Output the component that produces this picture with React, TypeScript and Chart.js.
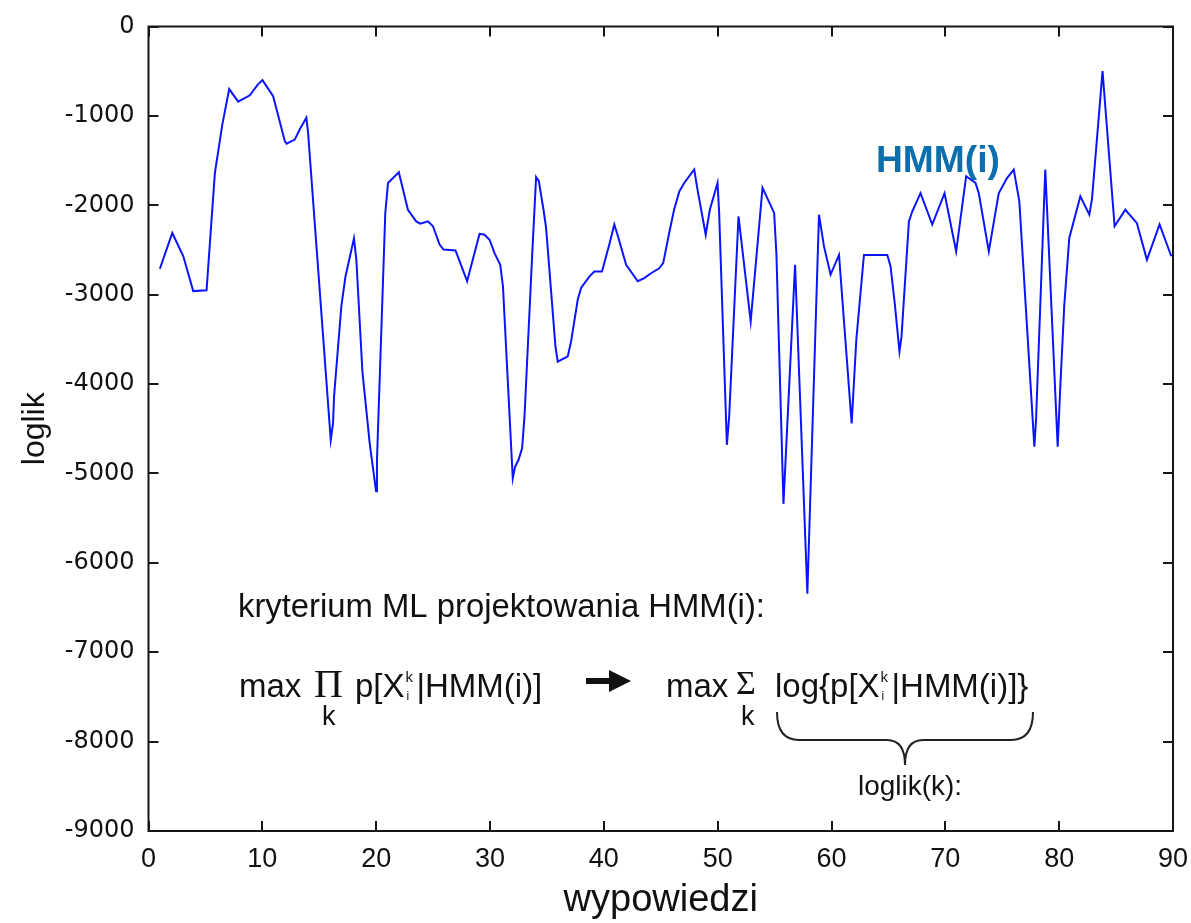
import React, { useEffect, useRef } from "react";
import { Chart, registerables } from "chart.js";

Chart.register(...registerables);

// utterance index (wypowiedzi) and log-likelihood values
const utteranceX = [
  1, 2.09, 3.06, 3.93, 5.1, 5.83, 6.48, 7.09, 7.88, 8.9, 9.6, 10.01, 10.95, 11.3, 11.97, 12.12,
  12.85, 13.29, 13.87, 14.02, 16.01, 16.21, 16.3, 16.94, 17.3, 18.05, 18.26, 18.79, 19.43, 19.99,
  20.07, 20.8, 21.04, 21.99, 22.79, 23.52, 23.88, 24.55, 24.99, 25.57, 25.92, 26.97, 27.61, 27.99,
  28.64, 29.08, 29.52, 29.96, 30.4, 30.9, 31.14, 32.0, 32.2, 32.5, 32.82, 33.03, 33.7, 34.05, 34.29,
  34.7, 34.93, 35.75, 35.95, 36.83, 37.12, 37.71, 38.0, 38.74, 39.17, 39.84, 40.48, 40.92, 41.2,
  41.96, 42.98, 43.55, 44.14, 44.87, 45.22, 45.74, 46.17, 46.63, 47.06, 47.94, 48.23, 48.95, 49.31,
  49.99, 50.13, 50.81, 51.01, 51.83, 51.97, 52.9, 53.94, 54.96, 55.16, 55.78, 56.8, 57.88, 58.9,
  59.34, 59.92, 60.66, 61.77, 62.18, 62.85, 64.9, 65.19, 65.57, 65.97, 66.15, 66.8, 67.09, 67.82,
  68.85, 69.93, 70.95, 71.83, 72.65, 72.94, 73.82, 74.69, 75.42, 76.01, 76.5, 77.82, 77.97, 78.78,
  79.87, 80.1, 80.45, 80.89, 81.86, 82.65, 82.88, 83.81, 84.87, 85.81, 86.83, 87.71, 88.82, 89.85,
];

const loglikValues = [
  -2710, -2310, -2570, -2960, -2950, -1640, -1100, -700, -840, -770, -650, -600, -780, -950, -1280, -1310,
  -1265, -1150, -1020, -1190, -4625, -4440, -4140, -3130, -2800, -2370, -2610, -3860, -4660, -5200,
  -4850, -2090, -1750, -1630, -2050, -2180, -2205, -2180, -2235, -2440, -2495, -2505, -2720, -2850,
  -2535, -2320, -2330, -2385, -2535, -2665, -2910, -5055, -4925, -4850, -4720, -4365, -2570, -1685, -1730,
  -2050, -2255, -3580, -3750, -3690, -3525, -3055, -2925, -2795, -2740, -2740, -2440, -2215, -2330,
  -2665, -2850, -2815, -2760, -2705, -2645, -2310, -2050, -1845, -1750, -1600, -1825, -2330, -2050,
  -1750, -2085, -4680, -4365, -2125, -2275, -3300, -1805, -2085, -2540, -5340, -2665, -6345, -2105,
  -2460, -2775, -2555, -4440, -3505, -2555, -2555, -2685, -3115, -3635, -3470, -2180, -2070, -1865,
  -2215, -1865, -2515, -1675, -1750, -1865, -2515, -1865, -1695, -1600, -1955, -4700, -4400, -1600,
  -4700, -4030, -3115, -2365, -1900, -2105, -1935, -500, -2235, -2050, -2200, -2610, -2215, -2570,
];

const xAxisMin = 0;
const xAxisMax = 90;
const xAxisStep = 10;
const yAxisMin = -9000;
const yAxisMax = 0;
const yAxisStep = 1000;

const xAxisTitle = "wypowiedzi";
const yAxisTitle = "loglik";
const seriesLabel = "HMM(i)";
const criterionText = "kryterium ML projektowania HMM(i):";
const bracketLabel = "loglik(k):";

const SANS = "'Liberation Sans', Arial, sans-serif";
const SERIF = "'Liberation Serif', 'Times New Roman', serif";
const INK = "#111111";

function fitFont(ctx: CanvasRenderingContext2D, text: string, width: number, family: string, weight = "normal") {
  ctx.font = `${weight} 100px ${family}`;
  const w = ctx.measureText(text).width;
  const size = (100 * width) / w;
  return `${weight} ${size.toFixed(2)}px ${family}`;
}

// draws p[X_i^k|HMM(i)] style text: prefix, stacked sub/sup, suffix
function drawIndexed(
  ctx: CanvasRenderingContext2D,
  x: number,
  baseline: number,
  size: number,
  prefix: string,
  suffix: string
) {
  ctx.font = `${size}px ${SANS}`;
  ctx.fillText(prefix, x, baseline);
  let cx = x + ctx.measureText(prefix).width + 1;
  ctx.font = `${Math.round(size * 0.36)}px ${SANS}`;
  ctx.fillText("i", cx + 1, baseline + 3);
  ctx.font = `${Math.round(size * 0.44)}px ${SANS}`;
  ctx.fillText("k", cx, baseline - size * 0.46);
  cx += size * 0.33;
  ctx.font = `${size}px ${SANS}`;
  ctx.fillText(suffix, cx, baseline);
  return cx + ctx.measureText(suffix).width;
}

const framePlugin = {
  id: "matlabFrame",
  afterDraw(chart: any) {
    const { ctx, chartArea, scales } = chart;
    const { left, right, top, bottom } = chartArea;
    const xs = scales.x;
    const ys = scales.y;
    ctx.save();
    ctx.strokeStyle = "#161616";
    ctx.lineWidth = 2;
    ctx.strokeRect(left, top, right - left, bottom - top);
    const tl = 10;
    ctx.beginPath();
    xs.ticks.forEach((t: any) => {
      const px = Math.round(xs.getPixelForValue(t.value));
      ctx.moveTo(px, bottom);
      ctx.lineTo(px, bottom - tl);
      ctx.moveTo(px, top);
      ctx.lineTo(px, top + tl);
    });
    ys.ticks.forEach((t: any) => {
      const py = Math.round(ys.getPixelForValue(t.value));
      ctx.moveTo(left, py);
      ctx.lineTo(left + tl, py);
      ctx.moveTo(right, py);
      ctx.lineTo(right - tl, py);
    });
    ctx.stroke();
    ctx.restore();
  },
};

const annotationPlugin = {
  id: "formulaNotes",
  afterDraw(chart: any) {
    const ctx: CanvasRenderingContext2D = chart.ctx;
    ctx.save();
    ctx.fillStyle = INK;
    ctx.textAlign = "left";
    ctx.textBaseline = "alphabetic";

    // series label
    ctx.fillStyle = "#0b6fae";
    ctx.font = fitFont(ctx, seriesLabel, 124, SANS, "bold");
    ctx.fillText(seriesLabel, 876, 172);

    ctx.fillStyle = INK;
    // criterion line
    ctx.font = fitFont(ctx, criterionText, 527, SANS);
    ctx.fillText(criterionText, 238, 617);

    const fs = 33;
    // left formula
    ctx.font = `${fs}px ${SANS}`;
    ctx.fillText("max", 239, 697);
    ctx.font = `40px ${SERIF}`;
    ctx.fillText("\u03A0", 314, 697);
    ctx.font = `27px ${SANS}`;
    ctx.fillText("k", 322, 725);
    drawIndexed(ctx, 355, 697, fs, "p[X", "|HMM(i)]");

    // arrow
    ctx.beginPath();
    ctx.moveTo(586, 681);
    ctx.lineTo(614, 681);
    ctx.lineWidth = 6;
    ctx.strokeStyle = INK;
    ctx.stroke();
    ctx.beginPath();
    ctx.moveTo(609, 670);
    ctx.lineTo(631, 681);
    ctx.lineTo(609, 692);
    ctx.closePath();
    ctx.fill();

    // right formula
    ctx.font = `${fs}px ${SANS}`;
    ctx.fillText("max", 666, 697);
    ctx.font = `34px ${SERIF}`;
    ctx.fillText("\u03A3", 736, 694);
    ctx.font = `27px ${SANS}`;
    ctx.fillText("k", 741, 725);
    drawIndexed(ctx, 775, 697, fs, "log{p[X", "|HMM(i)]}");

    // brace
    ctx.beginPath();
    ctx.lineWidth = 2;
    ctx.strokeStyle = "#222";
    const bl = 777, br = 1033, bt = 712, bm = 740, tipX = 905, tipY = 765;
    ctx.moveTo(bl, bt);
    ctx.quadraticCurveTo(bl, bm, bl + 22, bm);
    ctx.lineTo(tipX - 18, bm);
    ctx.quadraticCurveTo(tipX, bm, tipX, tipY);
    ctx.quadraticCurveTo(tipX, bm, tipX + 18, bm);
    ctx.lineTo(br - 22, bm);
    ctx.quadraticCurveTo(br, bm, br, bt);
    ctx.stroke();

    ctx.font = fitFont(ctx, bracketLabel, 104, SANS);
    ctx.fillText(bracketLabel, 858, 795);

    ctx.restore();
  },
};

export default function App() {
  const canvasRef = useRef<HTMLCanvasElement | null>(null);

  useEffect(() => {
    document.body.style.margin = "0";
    const canvas = canvasRef.current;
    if (!canvas) return;
    const chart = new Chart(canvas, {
      type: "line",
      data: {
        datasets: [
          {
            label: seriesLabel,
            data: utteranceX.map((x, i) => ({ x, y: loglikValues[i] })),
            borderColor: "#0a14ff",
            borderWidth: 2,
            pointRadius: 0,
            tension: 0,
            fill: false,
          },
        ],
      },
      options: {
        animation: false,
        responsive: false,
        maintainAspectRatio: false,
        devicePixelRatio: 1,
        layout: { padding: { left: 0, right: 18, top: 26.5, bottom: 0 } },
        plugins: {
          legend: { display: false },
          tooltip: { enabled: false },
          title: { display: false },
        },
        scales: {
          x: {
            type: "linear",
            min: xAxisMin,
            max: xAxisMax,
            afterFit: (s: any) => {
              s.height = 92;
              s.paddingLeft = 0;
              s.paddingRight = 0;
            },
            ticks: {
              stepSize: xAxisStep,
              maxRotation: 0,
              autoSkip: false,
              padding: 12,
              color: INK,
              font: { family: "'Liberation Sans Narrow', 'Liberation Sans', Arial, sans-serif", size: 27 },
            },
            grid: { display: false, drawTicks: false },
            border: { display: false },
            title: {
              display: true,
              text: xAxisTitle,
              color: INK,
              font: { family: SANS, size: 38 },
              padding: { top: 0, bottom: 0 },
            },
          },
          y: {
            type: "linear",
            min: yAxisMin,
            max: yAxisMax,
            afterFit: (s: any) => {
              s.width = 148.5;
              s.paddingTop = 0;
              s.paddingBottom = 0;
            },
            ticks: {
              stepSize: yAxisStep,
              autoSkip: false,
              padding: 14,
              color: INK,
              callback: (v: any) => String(v),
              font: { family: "'DejaVu Sans', sans-serif", size: 24 },
            },
            grid: { display: false, drawTicks: false },
            border: { display: false },
            title: {
              display: true,
              text: yAxisTitle,
              color: INK,
              font: { family: SANS, size: 32 },
              padding: { top: 16, bottom: 0 },
            },
          },
        },
      },
      plugins: [framePlugin, annotationPlugin],
    });
    return () => chart.destroy();
  }, []);

  return (
    <div style={{ position: "absolute", left: 0, top: 0, width: 1191, height: 923, background: "#fff" }}>
      <canvas ref={canvasRef} width={1191} height={923} />
    </div>
  );
}
